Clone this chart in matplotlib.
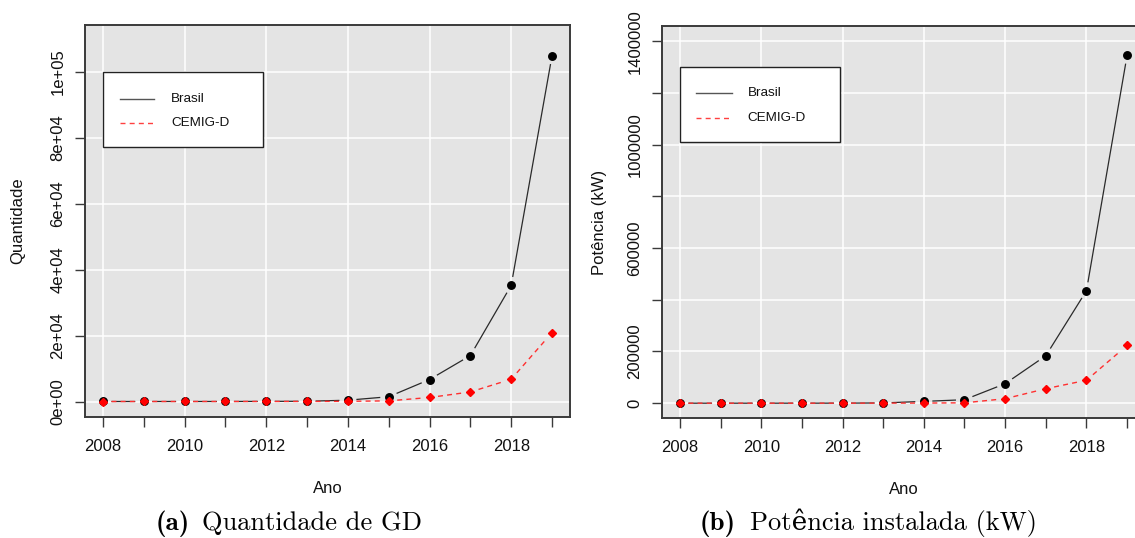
import numpy as np
import matplotlib
matplotlib.use("Agg")
import matplotlib.pyplot as plt
from matplotlib.patches import Rectangle
from matplotlib.lines import Line2D

# ---------------- data ----------------
anos = [2008, 2009, 2010, 2011, 2012, 2013, 2014, 2015, 2016, 2017, 2018, 2019]
qtd_brasil = [3, 5, 8, 10, 40, 75, 400, 1450, 6670, 13940, 35240, 104900]
qtd_cemig = [1, 2, 3, 4, 10, 20, 60, 200, 1220, 2900, 6760, 20900]
pot_brasil = [50, 80, 100, 150, 300, 1000, 7000, 13500, 75400, 183500, 435100, 1345700]
pot_cemig = [10, 20, 30, 40, 100, 300, 500, 1500, 17400, 56000, 88800, 223500]

xticks_anos = [2008, 2009, 2010, 2011, 2012, 2013, 2014, 2015, 2016, 2017, 2018, 2019]
xlabels_anos = ["2008", "", "2010", "", "2012", "", "2014", "", "2016", "", "2018", ""]
xgrid_anos = [2008, 2010, 2012, 2014, 2016, 2018]

yticks_qtd = [0, 20000, 40000, 60000, 80000, 100000]
ylabels_qtd = ["0e+00", "2e+04", "4e+04", "6e+04", "8e+04", "1e+05"]
yticks_pot = [0, 200000, 400000, 600000, 800000, 1000000, 1200000, 1400000]
ylabels_pot = ["0", "200000", "", "600000", "", "1000000", "", "1400000"]

series_names = ["Brasil", "CEMIG-D"]
captions = [("(a)", "Quantidade de GD"), ("(b)", "Potência instalada (kW)")]

# ---------------- style ----------------
W, H = 1135, 538
plt.rcParams["font.family"] = ["Liberation Sans", "DejaVu Sans"]
BG = "#e4e4e4"
FRAME = "#3a3a3a"
BLACK_LINE = "#2a2a2a"
RED_LINE = "#ff3030"

fig = plt.figure(figsize=(W / 100, H / 100), dpi=100)


def fx(px):
    return px / W


def fy(py):
    return 1 - py / H


def make_axes(left, top, right, bottom, ylim, yticks, ylabels, ylabel, ylabelpad):
    ax = fig.add_axes([fx(left), fy(bottom), fx(right - left), (bottom - top) / H])
    ax.set_facecolor(BG)
    ax.set_xlim(2007.56, 2019.44)
    ax.set_ylim(*ylim)
    for s in ax.spines.values():
        s.set_color(FRAME)
        s.set_linewidth(1.4)
    ax.set_xticks(xticks_anos)
    ax.set_xticklabels(xlabels_anos)
    ax.set_yticks(yticks)
    ax.set_yticklabels(ylabels, rotation=90, va="center")
    ax.tick_params(axis="both", length=7, width=1, color=FRAME, labelsize=12,
                   labelcolor="#111111")
    ax.tick_params(axis="x", pad=9)
    ax.tick_params(axis="y", pad=7)
    for gx in xgrid_anos:
        ax.axvline(gx, color="white", lw=1.1, zorder=0.5)
    for gy in yticks:
        ax.axhline(gy, color="white", lw=1.1, zorder=0.5)
    ax.set_xlabel("Ano", fontsize=12, labelpad=19, color="#111111")
    ax.set_ylabel(ylabel, fontsize=12, labelpad=ylabelpad, color="#111111")
    return ax


def draw_type_b(ax, x, y, gap, **kw):
    pts = ax.transData.transform(np.column_stack([x, y]))
    inv = ax.transData.inverted()
    for i in range(len(pts) - 1):
        p, q = pts[i], pts[i + 1]
        d = q - p
        L = np.hypot(*d)
        if L <= 2 * gap:
            continue
        u = d / L
        seg = inv.transform(np.array([p + u * gap, q - u * gap]))
        ax.plot(seg[:, 0], seg[:, 1], solid_capstyle="butt", dash_capstyle="butt", **kw)


def plot_panel(ax, ybr, ycm):
    draw_type_b(ax, anos, ybr, 8.5, color=BLACK_LINE, lw=0.9, zorder=2)
    ax.plot(anos, ybr, ls="none", marker="o", ms=5.4, color="black", zorder=3)
    draw_type_b(ax, anos, ycm, 8.5, color=RED_LINE, lw=1.0, dashes=(3.6, 3.0), zorder=4)
    ax.plot(anos, ycm, ls="none", marker="D", ms=4.3, color="red", zorder=5)


def legend_box(left, top, right, bottom, line_x0, line_x1, text_x, row_y):
    fig.add_artist(Rectangle((fx(left), fy(bottom)), fx(right - left), (bottom - top) / H,
                             transform=fig.transFigure, facecolor="white",
                             edgecolor="#222222", lw=1.0, zorder=10))
    fig.add_artist(Line2D([fx(line_x0), fx(line_x1)], [fy(row_y[0])] * 2,
                          transform=fig.transFigure, color="#555555", lw=1.0, zorder=11))
    fig.add_artist(Line2D([fx(line_x0), fx(line_x1)], [fy(row_y[1])] * 2,
                          transform=fig.transFigure, color="#ff4040", lw=1.0,
                          dashes=(3.6, 3.0), zorder=11))
    for name, ry in zip(series_names, row_y):
        fig.text(fx(text_x), fy(ry), name, fontsize=9.7, va="center", ha="left",
                 color="#111111", zorder=12)


# left panel
ax1 = make_axes(85, 25, 570, 417, (-4700, 114200), yticks_qtd, ylabels_qtd, "Quantidade", 18)
plot_panel(ax1, qtd_brasil, qtd_cemig)
legend_box(103, 72, 263, 147, 120, 154.5, 171, (99, 122.5))

# right panel (extends beyond the figure's right edge as in the original)
ax2 = make_axes(662, 26, 1145, 418, (-57240, 1458800), yticks_pot, ylabels_pot, "Potência (kW)", 15)
plot_panel(ax2, pot_brasil, pot_cemig)
legend_box(680, 67, 839.5, 142, 696, 731.5, 747.5, (93.3, 117.7))

# captions
cap_fam_b = ["cmb10", "DejaVu Serif"]
cap_fam_r = ["cmr10", "DejaVu Serif"]
for (tag, txt), tag_right, txt_left in zip(captions, (190, 736), (201.7, 749.7)):
    fig.text(fx(tag_right), fy(530), tag, family=cap_fam_b, fontsize=19.5,
             ha="right", va="baseline")
    fig.text(fx(txt_left), fy(530), txt, family=cap_fam_r, fontsize=19,
             ha="left", va="baseline")

fig.savefig("out.png", dpi=100)
